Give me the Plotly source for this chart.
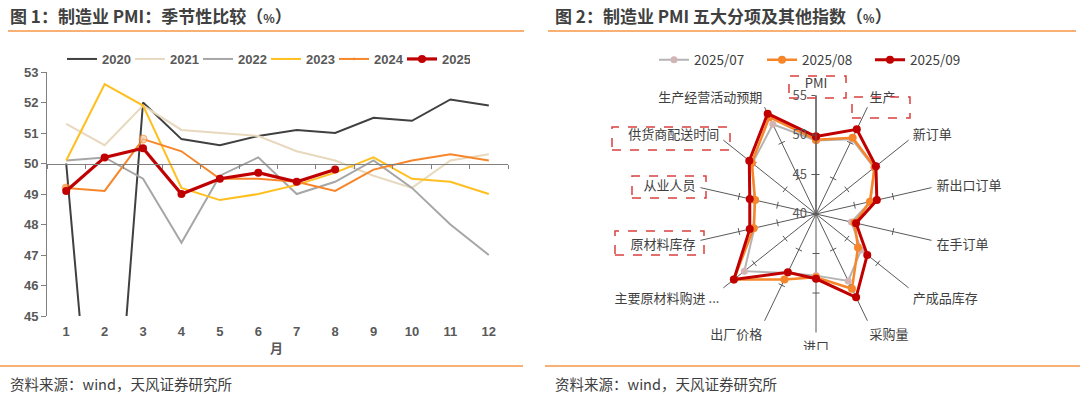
import plotly.graph_objects as go

# ---------------- data: left chart ----------------
MONTHS = list(range(1, 13))
YEARS = ["2020", "2021", "2022", "2023", "2024", "2025"]
PMI_2020 = [50.0, 35.7, 52.0, 50.8, 50.6, 50.9, 51.1, 51.0, 51.5, 51.4, 52.1, 51.9]
PMI_2021 = [51.3, 50.6, 51.9, 51.1, 51.0, 50.9, 50.4, 50.1, 49.6, 49.2, 50.1, 50.3]
PMI_2022 = [50.1, 50.2, 49.5, 47.4, 49.6, 50.2, 49.0, 49.4, 50.1, 49.2, 48.0, 47.0]
PMI_2023 = [50.1, 52.6, 51.9, 49.2, 48.8, 49.0, 49.3, 49.7, 50.2, 49.5, 49.4, 49.0]
PMI_2024 = [49.2, 49.1, 50.8, 50.4, 49.5, 49.5, 49.4, 49.1, 49.8, 50.1, 50.3, 50.1]
PMI_2025 = [49.1, 50.2, 50.5, 49.0, 49.5, 49.7, 49.4, 49.8]
Y_TICKS = [45, 46, 47, 48, 49, 50, 51, 52, 53]

# ---------------- data: radar chart ----------------
RADAR_CATS = ["PMI", "生产", "新订单", "新出口订单", "在手订单", "产成品库存", "采购量",
              "进口", "出厂价格", "主要原材料购进 ...", "原材料库存", "从业人员",
              "供货商配送时间", "生产经营活动预期"]
RADAR_NAMES = ["2025/07", "2025/08", "2025/09"]
V_2025_07 = [49.3, 50.5, 49.4, 47.1, 44.6, 47.3, 49.4, 47.8, 48.3, 51.6, 48.0, 48.0, 50.3, 52.6]
V_2025_08 = [49.4, 50.7, 49.5, 47.0, 45.0, 46.8, 50.5, 48.0, 49.2, 53.3, 48.1, 47.9, 50.4, 53.6]
V_2025_09 = [49.8, 51.9, 49.7, 47.9, 45.2, 48.3, 51.7, 48.2, 48.2, 53.3, 48.6, 48.6, 50.8, 54.1]
R_TICKS = [40, 45, 50, 55]

W, H = 1080, 399
def px(x):
    return x / W
def py(y):
    return 1 - y / H

GREY_TXT = "#595959"
DARK_TXT = "#404040"
ORANGE_RULE = "#F79646"
BOLD_LATIN = dict(family="Liberation Sans, Arial", size=13, color=GREY_TXT, weight="bold")

fig = go.Figure()

# ---------------- left chart traces ----------------
styles = {
    "2020": dict(color="#404040", width=2),
    "2021": dict(color="#E8D9BE", width=2),
    "2022": dict(color="#A6A6A6", width=2),
    "2023": dict(color="#FFBF1F", width=2),
    "2024": dict(color="#F7862A", width=2),
}
series = {"2020": PMI_2020, "2021": PMI_2021, "2022": PMI_2022,
          "2023": PMI_2023, "2024": PMI_2024}
for yr in YEARS[:-1]:
    vals = series[yr]
    kw = dict(mode="lines")
    if yr == "2024":
        kw = dict(mode="lines+markers",
                  marker=dict(size=[8, 0, 8] + [0] * 9,
                              color=["#F7862A", "#F7862A", "#F8C8A0"] + ["#F7862A"] * 9,
                              line=dict(color="#F7862A", width=1)))
    fig.add_trace(go.Scatter(x=MONTHS[:len(vals)], y=vals, name=yr, line=styles[yr],
                             xaxis="x", yaxis="y", legend="legend", hoverinfo="skip", **kw))
fig.add_trace(go.Scatter(x=MONTHS[:len(PMI_2025)], y=PMI_2025, name="2025",
                         mode="lines+markers", line=dict(color="#C00000", width=3.2),
                         marker=dict(size=8, color="#C00000"),
                         xaxis="x", yaxis="y", legend="legend", hoverinfo="skip"))
# dummy trace to host the axis line drawn at 50
fig.add_trace(go.Scatter(x=MONTHS, y=[None] * len(MONTHS), xaxis="x2", yaxis="y",
                         showlegend=False, hoverinfo="skip", mode="lines"))

# ---------------- radar traces ----------------
radar_styles = [
    dict(line=dict(color="#B4B4B4", width=2), marker=dict(size=7, color="#D2B4B4")),
    dict(line=dict(color="#F7862A", width=2.5), marker=dict(size=8, color="#F7862A")),
    dict(line=dict(color="#C00000", width=3), marker=dict(size=8, color="#C00000")),
]
# tick marks on every spoke
tick_r, tick_t, tick_a = [], [], []
for k, c in enumerate(RADAR_CATS):
    for r in R_TICKS[1:3]:
        tick_r.append(r)
        tick_t.append(c)
        tick_a.append(k * 360 / len(RADAR_CATS))
fig.add_trace(go.Scatterpolar(r=tick_r, theta=tick_t, mode="markers", showlegend=False,
                              hoverinfo="skip",
                              marker=dict(symbol="line-ew", size=5, angle=tick_a,
                                          line=dict(color="#595959", width=1))))
for name, vals, st in zip(RADAR_NAMES, [V_2025_07, V_2025_08, V_2025_09], radar_styles):
    fig.add_trace(go.Scatterpolar(r=vals + vals[:1], theta=RADAR_CATS + RADAR_CATS[:1],
                                  name=name, mode="lines+markers", legend="legend2",
                                  hoverinfo="skip", **st))

# ---------------- layout ----------------
y_dom = [py(316), py(72)]
pos50 = y_dom[0] + (50 - 45) / (53 - 45) * (y_dom[1] - y_dom[0])
cx, cy, rad = 816, 214, 118.5

shapes = []
# white cover to crop the bottom radar label like the reference
shapes.append(dict(type="rect", xref="paper", yref="paper", x0=px(780), x1=px(850),
                   y0=py(362), y1=py(350), fillcolor="white", line=dict(width=0), layer="above"))
for x0, x1, y in [(8, 524, 31), (548, 1076, 31), (0, 523, 366), (545, 1080, 366)]:
    shapes.append(dict(type="line", xref="paper", yref="paper", x0=px(x0), x1=px(x1),
                       y0=py(y), y1=py(y), line=dict(color=ORANGE_RULE, width=1.5)))
for x0, x1, y0, y1 in [(789, 846, 76, 98), (852, 910, 97, 118), (612, 730, 127, 150),
                       (632, 706, 176, 198), (615, 704, 231, 255)]:
    shapes.append(dict(type="rect", xref="paper", yref="paper", x0=px(x0), x1=px(x1),
                       y0=py(y1), y1=py(y0), line=dict(color="#D9403F", width=1.5, dash="dash"),
                       fillcolor="rgba(0,0,0,0)", layer="above"))

title_font = dict(family="Noto Sans CJK SC", size=17, color=DARK_TXT, weight="bold")
src_font = dict(family="Noto Sans CJK SC", size=14.5, color=DARK_TXT)
annotations = [
    dict(text="图 1：制造业 PMI：季节性比较（<span style='font-size:12px'>%</span>）",
         x=px(8), y=py(15), xref="paper", yref="paper", xanchor="left", yanchor="middle",
         showarrow=False, font=title_font),
    dict(text="图 2：制造业 PMI 五大分项及其他指数（<span style='font-size:12px'>%</span>）",
         x=px(553), y=py(15), xref="paper", yref="paper", xanchor="left", yanchor="middle",
         showarrow=False, font=title_font),
    dict(text="资料来源：wind，天风证券研究所", x=px(8), y=py(383), xref="paper", yref="paper",
         xanchor="left", yanchor="middle", showarrow=False, font=src_font),
    dict(text="资料来源：wind，天风证券研究所", x=px(553), y=py(383), xref="paper", yref="paper",
         xanchor="left", yanchor="middle", showarrow=False, font=src_font),
    dict(text="月", x=px(276), y=py(347), xref="paper", yref="paper", xanchor="center",
         yanchor="middle", showarrow=False,
         font=dict(family="Noto Sans CJK SC", size=13, color=GREY_TXT, weight="bold")),
]

fig.update_layout(
    template="none",
    width=W, height=H,
    margin=dict(l=0, r=0, t=0, b=0, autoexpand=False),
    paper_bgcolor="white", plot_bgcolor="white",
    xaxis=dict(domain=[px(47), px(508)], range=[0.5, 12.5], tickvals=MONTHS,
               showline=False, ticks="", showgrid=False, zeroline=False, automargin=False,
               tickfont=BOLD_LATIN, anchor="y", ticklabelstandoff=6),
    xaxis2=dict(overlaying="x", anchor="free", position=pos50, range=[0.5, 12.5],
                tickvals=[m - 0.5 for m in MONTHS] + [12.5], ticks="outside", ticklen=4,
                tickcolor="#808080", showticklabels=False, showline=True, automargin=False,
                linecolor="#808080", linewidth=1, showgrid=False, zeroline=False),
    yaxis=dict(domain=y_dom, range=[45, 53], tickvals=Y_TICKS, showline=True,
               linecolor="#808080", linewidth=1, ticks="outside", ticklen=5, automargin=False,
               tickcolor="#808080", showgrid=False, zeroline=False, tickfont=BOLD_LATIN),
    polar=dict(
        domain=dict(x=[px(cx - rad), px(cx + rad)], y=[py(cy + rad), py(cy - rad)]),
        bgcolor="white",
        angularaxis=dict(direction="clockwise", rotation=90, type="category",
                         categoryarray=RADAR_CATS, showline=False, showgrid=True,
                         gridcolor="#595959", gridwidth=1, ticks="outside", ticklen=2,
                         tickcolor="rgba(0,0,0,0)",
                         tickfont=dict(family="Noto Sans CJK SC", size=13, color=DARK_TXT)),
        radialaxis=dict(range=[40, 55], tickvals=R_TICKS, showgrid=False, showline=True,
                        linecolor="#595959", linewidth=1.2, angle=90, tickangle=90,
                        side="counterclockwise", ticks="outside", ticklen=4,
                        tickcolor="#595959",
                        tickfont=dict(family="Noto Sans CJK SC", size=13, color=GREY_TXT)),
    ),
    legend=dict(orientation="h", x=px(62), y=py(59), xanchor="left", yanchor="middle",
                entrywidth=23, entrywidthmode="pixels", bgcolor="rgba(0,0,0,0)",
                font=BOLD_LATIN, itemwidth=30, traceorder="normal"),
    legend2=dict(orientation="h", x=px(654), y=py(60), xanchor="left", yanchor="middle",
                 entrywidth=63, entrywidthmode="pixels", bgcolor="rgba(0,0,0,0)",
                 font=dict(family="Noto Sans CJK SC", size=13.5, color=DARK_TXT),
                 itemwidth=30, traceorder="normal"),
    shapes=shapes,
    annotations=annotations,
    showlegend=True,
)

fig.write_html("out.html", config={"displayModeBar": False},
               post_script="document.body.style.margin='0';")
